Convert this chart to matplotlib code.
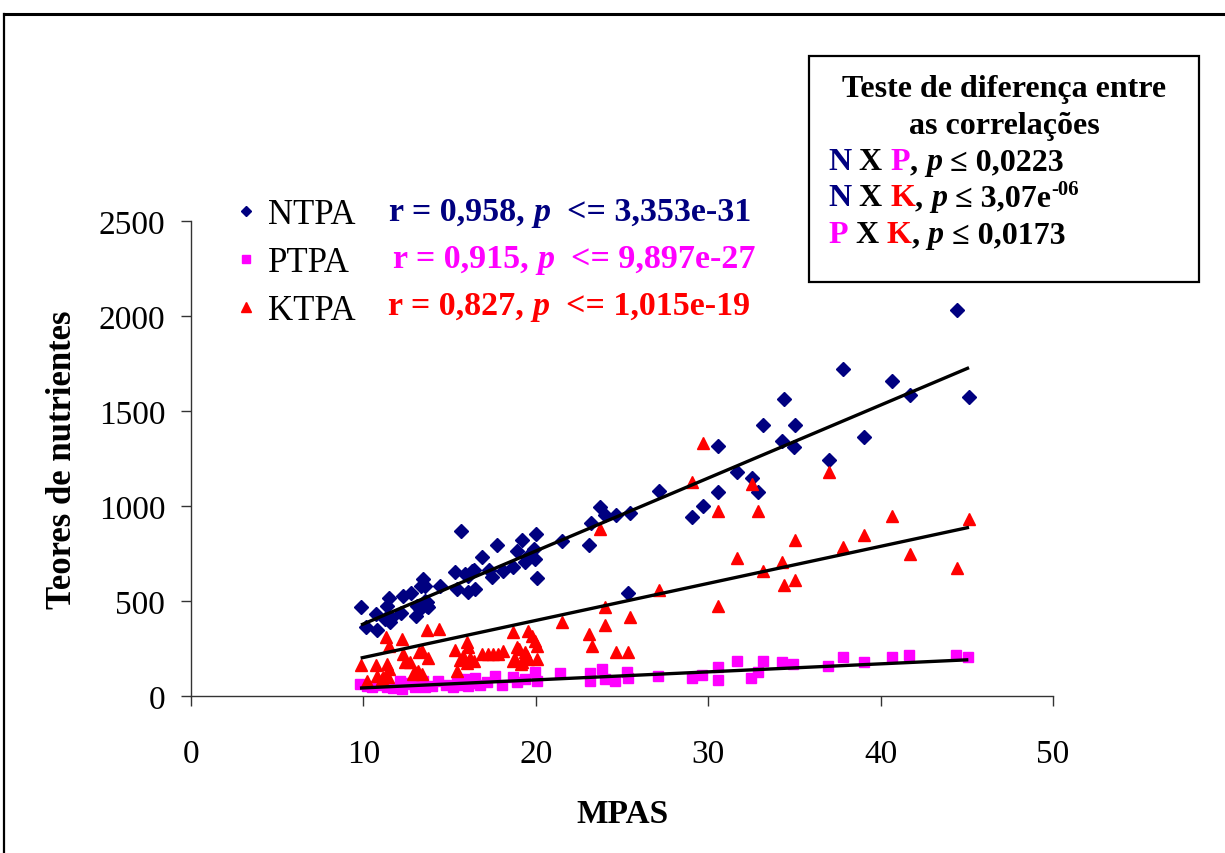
import numpy as np
import matplotlib
matplotlib.use("Agg")
import matplotlib.pyplot as plt
from matplotlib.lines import Line2D
from matplotlib.patches import Rectangle

plt.rcParams['font.family'] = ['Liberation Serif', 'DejaVu Serif']

# ---- data -------------------------------------------------------------
mpas_n = [9.86, 10.15, 10.73, 10.8, 11.25, 11.35, 11.5, 11.6, 12.2, 12.28,
          12.74, 13.1, 13.05, 13.28, 13.34, 13.47, 13.57, 13.7, 13.77, 14.44,
          15.3, 15.45, 15.64, 15.9, 16.08, 16.28, 16.43, 16.05, 16.47, 16.86,
          17.29, 17.48, 17.77, 18.08, 18.7, 18.89, 19.18, 19.37, 19.47, 19.9,
          20.01, 20.09, 19.95, 21.5, 23.1, 23.18, 23.72, 24.01, 24.65, 25.46,
          25.33, 27.16, 29.04, 29.68, 30.55, 30.59, 31.69, 32.54, 32.9, 33.2,
          34.3, 34.4, 35.03, 35.0, 37.03, 37.84, 39.05, 40.68, 41.7, 44.41,
          45.13, 11.54, 13.67, 13.57]
ntpa = [467, 361, 432, 347, 405, 475, 516, 410, 435, 528,
        540, 475, 423, 458, 580, 616, 577, 493, 467, 577,
        651, 563, 870, 642, 630, 659, 665, 546, 563, 730,
        665, 625, 795, 659, 677, 765, 823, 704, 730, 774,
        853, 621, 721, 814, 796, 909, 993, 953, 953, 963,
        540, 1081, 944, 998, 1072, 1318, 1181, 1146, 1072, 1428,
        1340, 1563, 1428, 1309, 1244, 1721, 1365, 1656, 1584, 2032,
        1575, 388, 475, 502]

mpas_p = [9.8, 10.19, 11.35, 12.12, 12.22, 12.89, 13.47, 13.57, 14.34, 15.22,
          15.41, 15.89, 16.08, 16.76, 17.15, 10.5, 11.0, 11.7, 12.6, 13.0,
          14.0, 14.8, 15.6, 16.3, 16.5, 17.63, 18.02, 18.69, 18.89, 19.37,
          19.95, 20.05, 21.4, 23.14, 23.14, 23.82, 24.01, 24.6, 25.27, 25.36,
          27.1, 29.04, 29.62, 30.55, 30.55, 31.65, 32.48, 32.87, 33.15, 34.26,
          34.94, 36.97, 37.8, 39.05, 40.64, 41.65, 44.37, 45.09]
ptpa = [63, 54, 46, 81, 37, 63, 81, 46, 81, 46,
        81, 89, 54, 60, 72, 45, 60, 40, 70, 50,
        55, 60, 60, 70, 95, 107, 58, 98, 72, 89,
        124, 81, 121, 121, 81, 142, 89, 81, 125, 93,
        104, 95, 112, 154, 86, 186, 95, 125, 186, 181,
        168, 160, 207, 181, 207, 216, 217, 207]

mpas_k = [9.84, 10.19, 10.73, 10.8, 11.06, 11.15, 11.31, 11.5, 11.35, 11.5,
          11.44, 12.22, 12.32, 12.41, 12.7, 12.9, 12.99, 13.18, 13.38, 13.24,
          13.38, 13.77, 13.71, 14.4, 15.31, 15.41, 16.0, 16.05, 15.6, 15.8,
          16.0, 16.2, 16.4, 16.86, 17.25, 17.53, 17.82, 18.12, 18.65, 18.89,
          18.79, 19.18, 19.57, 19.76, 19.95, 20.05, 20.09, 19.37, 19.47, 19.0,
          18.7, 19.14, 19.57, 21.5, 23.1, 23.24, 23.72, 24.01, 24.01, 24.65,
          25.36, 25.46, 27.16, 29.08, 29.68, 30.55, 30.55, 31.69, 32.52, 32.9,
          33.2, 34.3, 34.4, 35.03, 35.03, 37.03, 37.84, 39.05, 40.68, 41.7,
          44.41, 45.13]
ktpa = [165, 81, 165, 105, 89, 100, 309, 265, 168, 142,
        98, 300, 221, 177, 177, 116, 124, 133, 116, 230,
        238, 198, 349, 353, 242, 133, 282, 256, 190, 210,
        175, 200, 185, 221, 221, 221, 221, 238, 335, 256,
        195, 177, 344, 317, 291, 265, 195, 230, 212, 250,
        186, 168, 195, 388, 326, 265, 879, 467, 374, 230,
        230, 414, 559, 1125, 1332, 975, 475, 728, 1114, 975,
        656, 707, 584, 821, 612, 1177, 786, 849, 949, 747,
        674, 932]

# fitted trend lines: slope, intercept
trend_n = (38.4, -4.9)
trend_p = (4.22, 0.4)
trend_k = (19.5, 7.7)

x_ticks = [0, 10, 20, 30, 40, 50]
y_ticks = [0, 500, 1000, 1500, 2000, 2500]

NAVY = '#000080'
MAGENTA = '#FF00FF'
RED = '#FF0000'

# ---- figure -------------------------------------------------------------
W, H = 1225, 854
fig = plt.figure(figsize=(W / 100, H / 100), dpi=100)
fig.patch.set_facecolor('white')


def fx(px):
    return px / W


def fy(py):
    return 1 - py / H


ax = fig.add_axes([fx(191), fy(697), fx(1053) - fx(191), fy(222) - fy(697)])

ax.plot(mpas_n, ntpa, linestyle='none', marker='D', ms=7.4, color=NAVY,
        mec=NAVY, zorder=3)
ax.plot(mpas_p, ptpa, linestyle='none', marker='s', ms=7.0, color=MAGENTA,
        mec=MAGENTA, zorder=3)
ax.plot(mpas_k, ktpa, linestyle='none', marker='^', ms=9.0, color=RED,
        mec=RED, zorder=3)

for xs, (m, b) in ((mpas_n, trend_n), (mpas_p, trend_p), (mpas_k, trend_k)):
    xl = np.array([min(xs), max(xs)])
    ax.plot(xl, m * xl + b, color='black', lw=2.4, zorder=4,
            solid_capstyle='butt')

ax.set_xlim(0, 50)
ax.set_ylim(0, 2500)
ax.set_xticks(x_ticks)
ax.set_yticks(y_ticks)
ax.spines['top'].set_visible(False)
ax.spines['right'].set_visible(False)
for s in ('left', 'bottom'):
    ax.spines[s].set_color('#333333')
    ax.spines[s].set_linewidth(1.0)
ax.tick_params(axis='both', direction='out', length=7.5, width=1.0,
               color='#333333', labelsize=24)
ax.tick_params(axis='x', pad=23)
ax.tick_params(axis='y', pad=11)

ax.set_xlabel('MPAS', fontsize=24, fontweight='bold', labelpad=21)
ax.set_ylabel('Teores de nutrientes', fontsize=25, fontweight='bold',
              labelpad=14)

# legend with the series markers
handles = [Line2D([], [], linestyle='none', marker='D', ms=5.5, color=NAVY),
           Line2D([], [], linestyle='none', marker='s', ms=5.5, color=MAGENTA),
           Line2D([], [], linestyle='none', marker='^', ms=6.5, color=RED)]
ax.legend(handles, ['NTPA', 'PTPA', 'KTPA'], loc='upper left',
          bbox_to_anchor=(fx(235.6), fy(199)), bbox_transform=fig.transFigure,
          frameon=False, fontsize=25, handlelength=0.6, handletextpad=0.33,
          labelspacing=0.43, borderpad=0, borderaxespad=0)


def write_line(x0, y0, parts, size=23):
    """Coloured pieces placed side by side; parts = (text, colour, italic, superscript)."""
    prev = None
    for txt, color, italic, sup in parts:
        style = 'italic' if italic else 'normal'
        fs = size * 0.65 if sup else size
        kw = dict(color=color, fontweight='bold', fontstyle=style,
                  fontsize=fs, annotation_clip=False)
        if prev is None:
            prev = ax.annotate(txt, xy=(x0, y0), xycoords='figure fraction',
                               ha='left', va='baseline', **kw)
        elif sup:
            prev = ax.annotate(txt, xy=(1, 0.62), xycoords=prev,
                               ha='left', va='baseline', **kw)
        else:
            prev = ax.annotate(txt, xy=(1, 0), xycoords=prev,
                               ha='left', va='bottom', **kw)
    return prev


# correlation statements beside the legend
write_line(fx(389), fy(221), [('r = 0,958, ', NAVY, False, False),
                              ('p', NAVY, True, False),
                              ('  <= 3,353e-31', NAVY, False, False)], 24.5)
write_line(fx(393), fy(268), [('r = 0,915, ', MAGENTA, False, False),
                              ('p', MAGENTA, True, False),
                              ('  <= 9,897e-27', MAGENTA, False, False)], 24.5)
write_line(fx(388), fy(315), [('r = 0,827, ', RED, False, False),
                              ('p', RED, True, False),
                              ('  <= 1,015e-19', RED, False, False)], 24.5)

# box with the comparison tests between correlations
fig.patches.append(Rectangle((fx(809), fy(283)), fx(1199) - fx(809),
                             fy(57) - fy(283), transform=fig.transFigure,
                             fill=False, edgecolor='black', lw=1.6))
fig.text(fx(1004), fy(97), 'Teste de diferença entre', ha='center',
         va='baseline', fontsize=23, fontweight='bold')
fig.text(fx(1004), fy(134), 'as correlações', ha='center', va='baseline',
         fontsize=23, fontweight='bold')
write_line(fx(828), fy(170), [('N', NAVY, False, False),
                              (' X ', 'black', False, False),
                              ('P', MAGENTA, False, False),
                              (', ', 'black', False, False),
                              ('p', 'black', True, False),
                              (' ≤ 0,0223', 'black', False, False)])
write_line(fx(828), fy(206), [('N', NAVY, False, False),
                              (' X ', 'black', False, False),
                              ('K', RED, False, False),
                              (', ', 'black', False, False),
                              ('p', 'black', True, False),
                              (' ≤ 3,07e', 'black', False, False),
                              ('-06', 'black', False, True)])
write_line(fx(828), fy(243), [('P', MAGENTA, False, False),
                              (' X ', 'black', False, False),
                              ('K', RED, False, False),
                              (', ', 'black', False, False),
                              ('p', 'black', True, False),
                              (' ≤ 0,0173', 'black', False, False)])

# outer frame of the chart area
fig.add_artist(Line2D([fx(4), 1.0], [fy(15), fy(15)], color='black', lw=2.2,
                      transform=fig.transFigure))
fig.add_artist(Line2D([fx(4), fx(4)], [fy(15), 0.0], color='black', lw=1.6,
                      transform=fig.transFigure))

fig.savefig('out.png', dpi=100, facecolor='white')
